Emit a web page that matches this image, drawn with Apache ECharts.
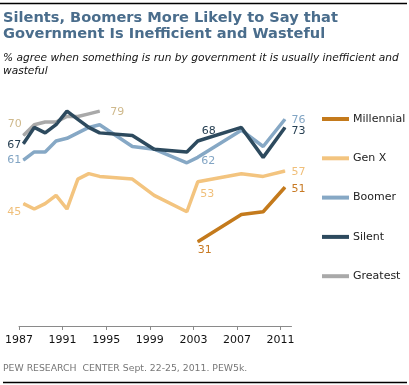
<!DOCTYPE html>
<html>
<head>
<meta charset="utf-8">
<script src="https://cdn.jsdelivr.net/npm/echarts@6/dist/echarts.min.js"></script>
<style>
  html, body { margin: 0; padding: 0; background: #fff; }
  #chart { width: 409px; height: 385px; }
</style>
</head>
<body>
<div id="chart"></div>
<script>
// ---- data ----
const years = [1987, 1988, 1989, 1990, 1991, 1992, 1993, 1994, 1997, 1999, 2002, 2003, 2007, 2009, 2011];
const millennial = [null, null, null, null, null, null, null, null, null, null, null, 31, 41, 42, 51];
const genX      = [45, 43, 45, 48, 43, 54, 56, 55, 54, 48, 42, 53, 56, 55, 57];
const boomer    = [61, 64, 64, 68, 69, 71, 73, 74, 66, 65, 60, 62, 72, 66, 76];
const silent    = [67, 73, 71, 74, 79, 76, 73, 71, 70, 65, 64, 68, 73, 62, 73];
const greatest  = [70, 74, 75, 75, 77, 77, 78, 79, null, null, null, null, null, null, null];
const tickYears = [1987, 1991, 1995, 1999, 2003, 2007, 2011];
const seriesNames = ['Millennial', 'Gen X', 'Boomer', 'Silent', 'Greatest'];

// survey fielded part-way through each year
const surveyOffset = 0.4;

// ---- presentation ----
const FONT = 'DejaVu Sans';
const colors = {
  'Millennial': '#c47a1c',
  'Gen X': '#f3c47f',
  'Boomer': '#86a8c5',
  'Silent': '#2d4a5e',
  'Greatest': '#a9a9a9'
};
const labelColors = {
  'Millennial': '#c87a24',
  'Gen X': '#f0bf7a',
  'Boomer': '#82a5c4',
  'Silent': '#263f52',
  'Greatest': '#cfb98c'
};
// which points carry a value label, and where
const labelSpecs = {
  'Greatest':   [{i: 0, position: 'left', distance: 1, offset: [0, -11]},
                 {i: 7, position: 'right', distance: 10, offset: [0, 1]}],
  'Silent':     [{i: 0, position: 'left', distance: 1.5, offset: [0, 1]},
                 {i: 11, position: 'top', distance: 4, offset: [11, 0]},
                 {i: 14, position: 'right', distance: 6, offset: [0, 4]}],
  'Boomer':     [{i: 0, position: 'left', distance: 1.5, offset: [0, 0]},
                 {i: 11, position: 'right', distance: 3, offset: [0, 4]},
                 {i: 14, position: 'right', distance: 6, offset: [0, 1]}],
  'Gen X':      [{i: 0, position: 'left', distance: 1.5, offset: [0, 9]},
                 {i: 11, position: 'bottom', distance: 6.5, offset: [9.5, 0]},
                 {i: 14, position: 'right', distance: 6, offset: [0, 1]}],
  'Millennial': [{i: 11, position: 'bottom', distance: 2.5, offset: [7, 0]},
                 {i: 14, position: 'right', distance: 6, offset: [0, 2]}]
};
const valuesByName = {
  'Millennial': millennial, 'Gen X': genX, 'Boomer': boomer, 'Silent': silent, 'Greatest': greatest
};

function buildData(name) {
  const vals = valuesByName[name];
  const specs = labelSpecs[name] || [];
  return years.map((yr, idx) => {
    const v = vals[idx];
    if (v === null) return [yr + surveyOffset, null];
    const spec = specs.find(s => s.i === idx);
    const item = { value: [yr + surveyOffset, v] };
    if (spec) {
      item.label = {
        show: true,
        position: spec.position,
        distance: spec.distance,
        offset: spec.offset,
        color: labelColors[name],
        fontFamily: FONT,
        fontSize: 11,
        formatter: String(v)
      };
    }
    return item;
  });
}

// draw order (bottom to top)
const drawOrder = ['Greatest', 'Gen X', 'Boomer', 'Silent', 'Millennial'];
const series = drawOrder.map(name => ({
  name: name,
  type: 'line',
  data: buildData(name),
  showSymbol: true,
  symbol: 'circle',
  symbolSize: 1,
  itemStyle: { color: colors[name] },
  lineStyle: { color: colors[name], width: 3.5 },
  label: { show: false },
  emphasis: { disabled: true },
  connectNulls: false,
  animation: false,
  z: 2
}));

const chart = echarts.init(document.getElementById('chart'), null, { renderer: 'canvas' });
chart.setOption({
  animation: false,
  backgroundColor: '#ffffff',
  title: [
    {
      text: 'Silents, Boomers More Likely to Say that\nGovernment Is Inefficient and Wasteful',
      left: 3, top: 10, padding: 0,
      textStyle: { fontFamily: FONT, fontSize: 14.6, fontWeight: 'bold', color: '#4a6d8c', lineHeight: 16.3 }
    },
    {
      text: '% agree when something is run by government it is usually inefficient and\nwasteful',
      left: 3, top: 52, padding: 0,
      textStyle: { fontFamily: FONT, fontSize: 10.6, fontStyle: 'italic', fontWeight: 'normal', color: '#111', lineHeight: 12.5 }
    },
    {
      text: 'PEW RESEARCH  CENTER Sept. 22-25, 2011. PEW5k.',
      left: 3, top: 363, padding: 0,
      textStyle: { fontFamily: FONT, fontSize: 9.3, fontWeight: 'normal', color: '#777', lineHeight: 11 }
    }
  ],
  legend: {
    data: seriesNames,
    orient: 'vertical',
    left: 322, top: 112,
    padding: 0,
    itemWidth: 27, itemHeight: 4,
    itemGap: 25.3,
    icon: 'rect',
    selectedMode: false,
    textStyle: { fontFamily: FONT, fontSize: 11, color: '#222', lineHeight: 14, padding: [0, 0, 0, -1] }
  },
  grid: { left: 19, right: 117.5, top: 94.8, bottom: 56.3, containLabel: false },
  xAxis: {
    type: 'value',
    min: 1987, max: 2012,
    interval: 4,
    axisLine: { show: true, lineStyle: { color: '#8a8a8a', width: 1 } },
    axisTick: { show: true, length: 4, inside: false, customValues: tickYears, lineStyle: { color: '#8a8a8a' } },
    axisLabel: { customValues: tickYears, margin: 6, fontFamily: FONT, fontSize: 11, color: '#111',
                 formatter: v => String(v) },
    splitLine: { show: false }
  },
  yAxis: {
    type: 'value',
    min: -1, max: 85,
    show: false,
    splitLine: { show: false }
  },
  graphic: [
    { type: 'line', shape: { x1: 0, y1: 3.5, x2: 407, y2: 3.5 }, style: { stroke: '#000', lineWidth: 1.5 }, silent: true },
    { type: 'line', shape: { x1: 3, y1: 382.5, x2: 407, y2: 382.5 }, style: { stroke: '#000', lineWidth: 1.5 }, silent: true }
  ],
  series: series
});
</script>
</body>
</html>
